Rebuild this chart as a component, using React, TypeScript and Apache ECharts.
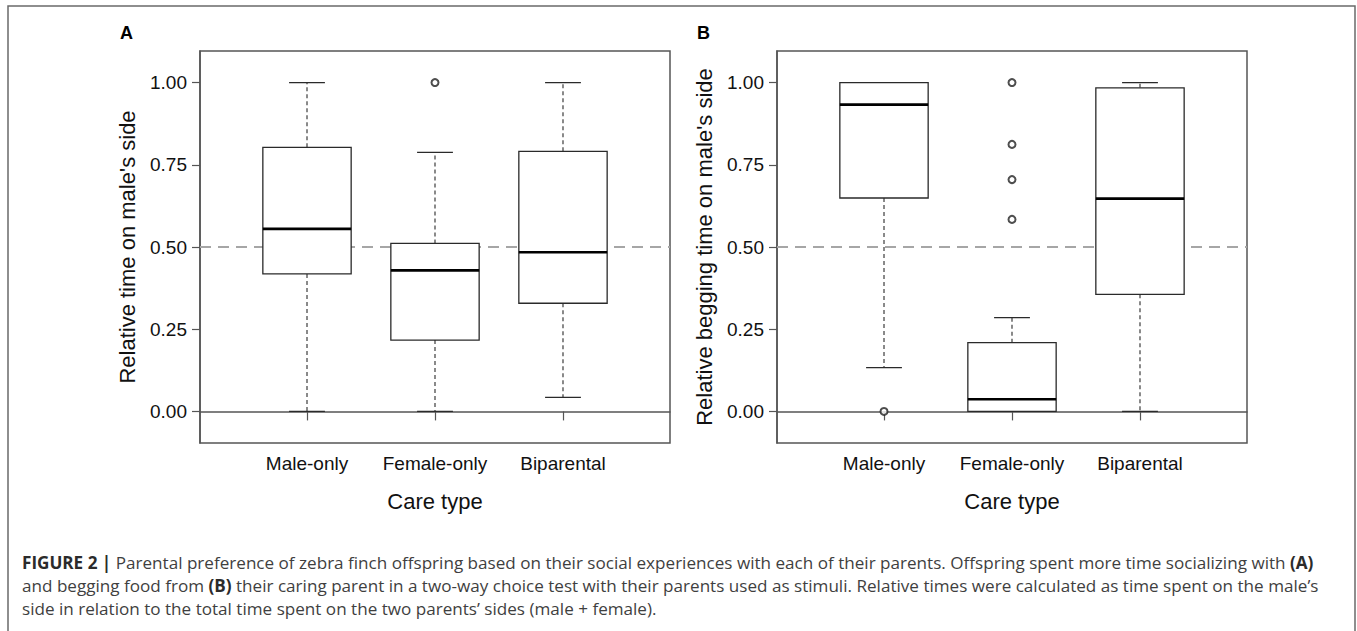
import React, { useEffect, useRef } from 'react';
import * as echarts from 'echarts';

const categories = ['Male-only', 'Female-only', 'Biparental'];
const categoryPositions = [1, 2, 3];
const yTicks = [0, 0.25, 0.5, 0.75, 1.0];
const yTickLabels = ['0.00', '0.25', '0.50', '0.75', '1.00'];
// [low whisker, Q1, median, Q3, high whisker]
const boxesA = [
  [0.0, 0.418, 0.555, 0.803, 1.0],
  [0.0, 0.217, 0.429, 0.511, 0.788],
  [0.043, 0.329, 0.484, 0.791, 1.0],
];
const outliersA = [[2, 1.0]];
const boxesB = [
  [0.133, 0.649, 0.933, 1.0, 1.0],
  [0.0, 0.0, 0.037, 0.209, 0.285],
  [0.0, 0.356, 0.647, 0.984, 1.0],
];
const outliersB = [
  [1, 0.0],
  [2, 1.0],
  [2, 0.812],
  [2, 0.705],
  [2, 0.584],
];
const referenceLevel = 0.5;
const xAxisTitle = 'Care type';
const yTitleA = "Relative time on male's side";
const yTitleB = "Relative begging time on male's side";
const captionLines = [
  '{b|FIGURE 2 |}{n| Parental preference of zebra finch offspring based on their social experiences with each of their parents. Offspring spent more time socializing with }{b|(A)}',
  '{n|and begging food from }{b|(B)}{n| their caring parent in a two-way choice test with their parents used as stimuli. Relative times were calculated as time spent on the male\u2019s}',
  '{n|side in relation to the total time spent on the two parents\u2019 sides (male + female).}',
];

const FONT = 'Liberation Sans, Arial, Helvetica, sans-serif';
const CAPTION_FONT = 'Open Sans, Liberation Sans, Arial, sans-serif';
const CAPTION_SIZE = 17.1;
const X_MIN = 0.164;
const X_MAX = 3.836;
const Y_MIN = -0.096;
const Y_MAX = 1.096;

const renderBox = (params: any, api: any) => {
  const x = api.value(0);
  const low = api.value(1);
  const q1 = api.value(2);
  const med = api.value(3);
  const q3 = api.value(4);
  const high = api.value(5);
  const pLow = api.coord([x, low]);
  const pQ1 = api.coord([x, q1]);
  const pMed = api.coord([x, med]);
  const pQ3 = api.coord([x, q3]);
  const pHigh = api.coord([x, high]);
  const unit = api.size([1, 0])[0];
  const halfBox = unit * 0.345;
  const halfCap = unit * 0.14;
  const cx = pMed[0];
  const solid = { stroke: '#2a2a2a', lineWidth: 1.3, fill: null };
  const dashed = { stroke: '#2a2a2a', lineWidth: 1.1, lineDash: [4, 3], fill: null };
  return {
    type: 'group',
    children: [
      { type: 'line', shape: { x1: cx, y1: pQ3[1], x2: cx, y2: pHigh[1] }, style: dashed },
      { type: 'line', shape: { x1: cx, y1: pQ1[1], x2: cx, y2: pLow[1] }, style: dashed },
      { type: 'line', shape: { x1: cx - halfCap, y1: pHigh[1], x2: cx + halfCap, y2: pHigh[1] }, style: solid },
      { type: 'line', shape: { x1: cx - halfCap, y1: pLow[1], x2: cx + halfCap, y2: pLow[1] }, style: solid },
      {
        type: 'rect',
        shape: { x: cx - halfBox, y: pQ3[1], width: halfBox * 2, height: pQ1[1] - pQ3[1] },
        style: { stroke: '#2a2a2a', lineWidth: 1.3, fill: '#fff' },
      },
      {
        type: 'line',
        shape: { x1: cx - halfBox, y1: pMed[1], x2: cx + halfBox, y2: pMed[1] },
        style: { stroke: '#000', lineWidth: 2.6 },
      },
    ],
  };
};

const makeXAxis = (gridIndex: number) => ({
  type: 'value',
  gridIndex,
  min: X_MIN,
  max: X_MAX,
  name: xAxisTitle,
  nameLocation: 'middle',
  nameGap: 47,
  nameTextStyle: { fontFamily: FONT, fontSize: 22, color: '#111' },
  axisLine: { show: true, lineStyle: { color: '#555', width: 1.5 } },
  axisTick: { show: true, length: 9, customValues: categoryPositions, lineStyle: { color: '#555', width: 1.2 } },
  axisLabel: {
    show: true,
    customValues: categoryPositions,
    margin: 11,
    fontFamily: FONT,
    fontSize: 19,
    color: '#111',
    formatter: (v: number) => categories[Math.round(v) - 1] ?? '',
  },
  splitLine: { show: false },
});

const makeYAxis = (gridIndex: number, title: string) => ({
  type: 'value',
  gridIndex,
  min: Y_MIN,
  max: Y_MAX,
  name: title,
  nameLocation: 'middle',
  nameGap: 62,
  nameTextStyle: { fontFamily: FONT, fontSize: 22, color: '#111' },
  axisLine: { show: true, lineStyle: { color: '#555', width: 1.5 } },
  axisTick: { show: true, length: 8, customValues: yTicks, lineStyle: { color: '#555', width: 1.2 } },
  axisLabel: {
    show: true,
    customValues: yTicks,
    margin: 13,
    fontFamily: FONT,
    fontSize: 19,
    color: '#111',
    formatter: (v: number) => {
      const i = yTicks.findIndex((t) => Math.abs(t - v) < 1e-6);
      return i >= 0 ? yTickLabels[i] : '';
    },
  },
  splitLine: { show: false },
});

const boxSeries = (idx: number, boxes: number[][]) => ({
  type: 'custom',
  xAxisIndex: idx,
  yAxisIndex: idx,
  renderItem: renderBox,
  encode: { x: 0, y: [1, 2, 3, 4, 5] },
  data: boxes.map((b, i) => [categoryPositions[i], ...b]),
  z: 3,
  markLine: {
    silent: true,
    symbol: ['none', 'none'],
    label: { show: false },
    lineStyle: { color: '#a6a6a6', width: 2, type: [11, 7] },
    data: [{ yAxis: referenceLevel }],
    z: 1,
  },
});

const outlierSeries = (idx: number, pts: number[][]) => ({
  type: 'scatter',
  xAxisIndex: idx,
  yAxisIndex: idx,
  symbol: 'emptyCircle',
  symbolSize: 7,
  itemStyle: { color: '#222', borderColor: '#222', borderWidth: 1.1 },
  data: pts,
  z: 4,
});

export default function App() {
  const ref = useRef<HTMLDivElement>(null);
  useEffect(() => {
    if (!ref.current) return;
    const chart = echarts.init(ref.current, null, { renderer: 'svg' });
    const captionStyle = (text: string) => ({
      text,
      rich: {
        b: { fontFamily: CAPTION_FONT, fontSize: CAPTION_SIZE, fontWeight: 'bold', fill: '#2b2b2b', color: '#2b2b2b' },
        n: { fontFamily: CAPTION_FONT, fontSize: CAPTION_SIZE, fill: '#3f3f3f', color: '#3f3f3f' },
      },
      fontFamily: CAPTION_FONT,
      fontSize: CAPTION_SIZE,
      fill: '#3f3f3f',
      verticalAlign: 'middle',
      textVerticalAlign: 'middle',
    });
    chart.setOption({
      animation: false,
      backgroundColor: '#fff',
      grid: [
        { left: 200, top: 51, width: 470, height: 392, show: true, borderColor: '#555', borderWidth: 1.5, containLabel: false },
        { left: 777, top: 51, width: 470, height: 392, show: true, borderColor: '#555', borderWidth: 1.5, containLabel: false },
      ],
      xAxis: [makeXAxis(0), makeXAxis(1)],
      yAxis: [makeYAxis(0, yTitleA), makeYAxis(1, yTitleB)],
      series: [boxSeries(0, boxesA), outlierSeries(0, outliersA), boxSeries(1, boxesB), outlierSeries(1, outliersB)],
      graphic: [
        {
          type: 'rect',
          shape: { x: 8, y: 6, width: 1347, height: 700 },
          style: { fill: 'none', stroke: '#6a6a6a', lineWidth: 1.5 },
          silent: true,
          z: 0,
        },
        {
          type: 'text',
          x: 120,
          y: 33,
          style: { text: 'A', fontFamily: FONT, fontSize: 18, fontWeight: 'bold', fill: '#000', verticalAlign: 'middle', textVerticalAlign: 'middle' },
        },
        {
          type: 'text',
          x: 697,
          y: 33,
          style: { text: 'B', fontFamily: FONT, fontSize: 18, fontWeight: 'bold', fill: '#000', verticalAlign: 'middle', textVerticalAlign: 'middle' },
        },
        ...captionLines.map((line, i) => ({
          type: 'text',
          x: 22,
          y: 562 + i * 23,
          style: captionStyle(line),
        })),
      ],
    });
    return () => chart.dispose();
  }, []);
  return <div ref={ref} style={{ position: 'fixed', left: 0, top: 0, width: 1357, height: 631, background: '#fff' }} />;
}
